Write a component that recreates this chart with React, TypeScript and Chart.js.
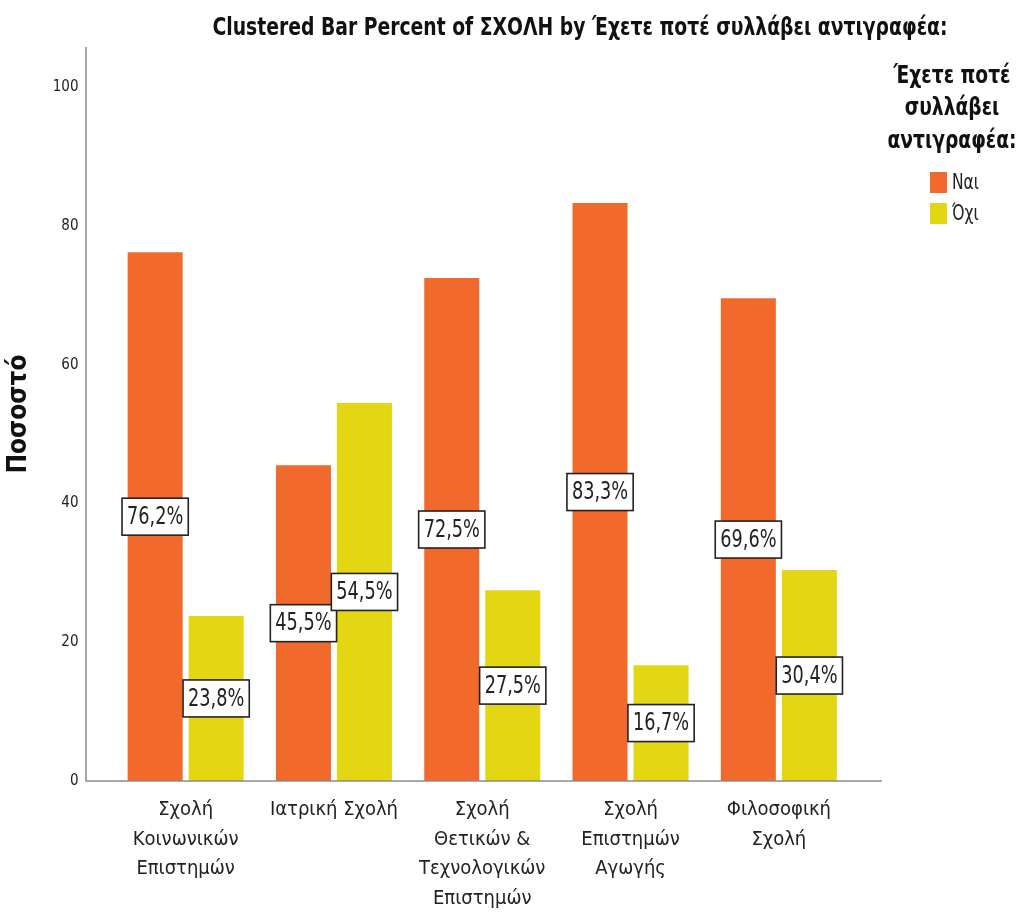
import React, { useEffect, useRef } from "react";
import { Chart, registerables } from "chart.js";

Chart.register(...registerables);

const categories: string[][] = [
  ["Σχολή", "Κοινωνικών", "Επιστημών"],
  ["Ιατρική Σχολή"],
  ["Σχολή", "Θετικών &", "Τεχνολογικών", "Επιστημών"],
  ["Σχολή", "Επιστημών", "Αγωγής"],
  ["Φιλοσοφική", "Σχολή"],
];
const seriesNames = ["Ναι", "Όχι"];
const yesValues = [76.2, 45.5, 72.5, 83.3, 69.6];
const noValues = [23.8, 54.5, 27.5, 16.7, 30.4];
const yTicks = [0, 20, 40, 60, 80, 100];
const chartTitle = "Clustered Bar Percent of ΣΧΟΛΗ by Έχετε ποτέ συλλάβει αντιγραφέα:";
const legendTitle = ["Έχετε ποτέ", "συλλάβει", "αντιγραφέα:"];
const yTitle = "Ποσοστό";

const FONT = "'DejaVu Sans Condensed', 'Liberation Sans Narrow', sans-serif";
const COLORS = ["#F2692C", "#E2D712"];

const fmt = (v: number) => v.toFixed(1).replace(".", ",") + "%";

// draw text horizontally compressed by sx
function narrowText(ctx: CanvasRenderingContext2D, txt: string, x: number, y: number, sx: number) {
  ctx.save();
  ctx.translate(x, y);
  ctx.scale(sx, 1);
  ctx.fillText(txt, 0, 0);
  ctx.restore();
}

const decorPlugin = {
  id: "decor",
  afterDraw(chart: any) {
    const ctx = chart.ctx as CanvasRenderingContext2D;
    const area = chart.chartArea;
    ctx.save();
    // axis lines
    ctx.strokeStyle = "#8c8c8c";
    ctx.lineWidth = 1.5;
    ctx.beginPath();
    ctx.moveTo(86, 47);
    ctx.lineTo(86, area.bottom);
    ctx.lineTo(882, area.bottom);
    ctx.stroke();

    // data labels
    const lsx = 0.82;
    ctx.font = `24px ${FONT}`;
    ctx.textAlign = "center";
    ctx.textBaseline = "middle";
    chart.data.datasets.forEach((ds: any, di: number) => {
      const meta = chart.getDatasetMeta(di);
      meta.data.forEach((bar: any, i: number) => {
        const v = ds.data[i];
        const txt = fmt(v);
        const cy = (bar.y + bar.base) / 2;
        const cx = bar.x;
        const w = ctx.measureText(txt).width * lsx + 10;
        const h = 37;
        ctx.fillStyle = "#ffffff";
        ctx.fillRect(cx - w / 2, cy - h / 2, w, h);
        ctx.strokeStyle = "#222222";
        ctx.lineWidth = 1.6;
        ctx.strokeRect(cx - w / 2, cy - h / 2, w, h);
        ctx.fillStyle = "#222222";
        narrowText(ctx, txt, cx, cy + 1, lsx);
      });
    });

    // title
    ctx.fillStyle = "#111111";
    ctx.font = `bold 25px ${FONT}`;
    ctx.textAlign = "center";
    ctx.textBaseline = "middle";
    const tw = ctx.measureText(chartTitle).width;
    narrowText(ctx, chartTitle, 580, 28, 735 / tw);

    // legend
    const lx = 952;
    ctx.font = `bold 25px ${FONT}`;
    const lw = Math.max(...legendTitle.map((l) => ctx.measureText(l).width));
    legendTitle.forEach((line, i) => {
      narrowText(ctx, line, lx, 76 + i * 32.5, 129 / lw);
    });
    ctx.font = `21px ${FONT}`;
    ctx.textAlign = "left";
    chart.data.datasets.forEach((ds: any, di: number) => {
      const y = 172 + di * 31;
      ctx.fillStyle = ds.backgroundColor;
      ctx.fillRect(930, y, 17, 21);
      ctx.fillStyle = "#222222";
      narrowText(ctx, ds.label, 952, y + 12, 0.82);
    });
    ctx.restore();
  },
};

export default function App() {
  const ref = useRef<HTMLCanvasElement>(null);
  useEffect(() => {
    if (!ref.current) return;
    const chart = new Chart(ref.current, {
      type: "bar",
      data: {
        labels: categories as any,
        datasets: [
          { label: seriesNames[0], data: yesValues, backgroundColor: COLORS[0] },
          { label: seriesNames[1], data: noValues, backgroundColor: COLORS[1] },
        ],
      },
      options: {
        animation: false,
        responsive: false,
        maintainAspectRatio: false,
        layout: { padding: { left: 0, right: 1022 - 853, top: 47, bottom: 0 } },
        datasets: { bar: { categoryPercentage: 0.8227, barPercentage: 0.9016 } },
        plugins: {
          legend: { display: false },
          title: { display: false },
          tooltip: { enabled: false },
        },
        scales: {
          x: {
            grid: { display: false, drawTicks: false },
            border: { display: false },
            ticks: {
              color: "#222222",
              font: { family: FONT, size: 20, lineHeight: 1.48 },
              padding: 14,
              maxRotation: 0,
              autoSkip: false,
            },
            afterFit: (s: any) => { s.height = 918 - 781; },
          },
          y: {
            min: 0,
            max: 105.8,
            grid: { display: false, drawTicks: false },
            border: { display: false },
            afterBuildTicks: (s: any) => { s.ticks = yTicks.map((v) => ({ value: v })); },
            ticks: {
              color: "#222222",
              font: { family: FONT, size: 15 },
              padding: 33,
            },
            title: {
              display: true,
              text: yTitle,
              color: "#111111",
              font: { family: FONT, size: 26, weight: "bold" },
              padding: { top: 4, bottom: 0 },
            },
            afterFit: (s: any) => { s.width = 111.5; },
          },
        },
      },
      plugins: [decorPlugin],
    });
    return () => chart.destroy();
  }, []);
  return (
    <div style={{ position: "fixed", left: 0, top: 0, width: 1022, height: 918, background: "#fff" }}>
      <canvas ref={ref} width={1022} height={918} style={{ width: 1022, height: 918, display: "block" }} />
    </div>
  );
}
